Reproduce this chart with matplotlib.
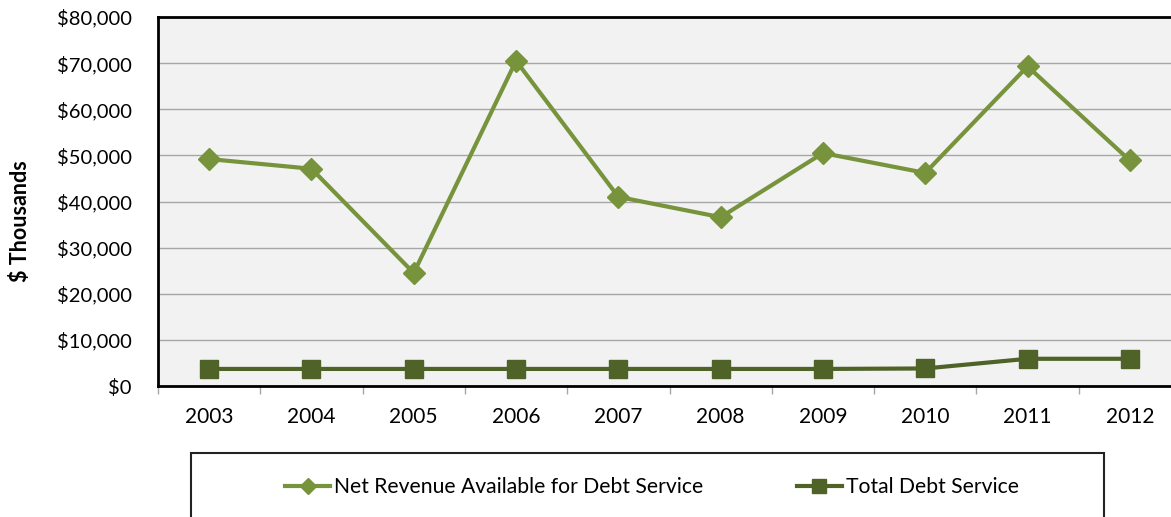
import matplotlib.pyplot as plt
from matplotlib.patches import Rectangle
from matplotlib.ticker import FuncFormatter, MultipleLocator

# Net revenue vs. debt service, $ thousands
years = ["2003", "2004", "2005", "2006", "2007", "2008", "2009", "2010", "2011", "2012"]
net_revenue = [49200, 47100, 24500, 70500, 41000, 36600, 50500, 46200, 69300, 48900]
debt_service = [3700, 3700, 3700, 3700, 3700, 3700, 3700, 3800, 5900, 5900]

light_green = "#77933C"
dark_green = "#4F6228"

plt.rcParams["font.family"] = ["Lato", "DejaVu Sans"]

fig = plt.figure(figsize=(11.71, 5.17), dpi=100)
ax = fig.add_axes([158 / 1171, 1 - 386 / 517, 1023 / 1171, 369 / 517])
ax.set_facecolor("#F2F2F2")

x = list(range(len(years)))
ax.plot(x, net_revenue, color=light_green, lw=3, marker="D", ms=11,
        label="Net Revenue Available for Debt Service", zorder=3)
ax.plot(x, debt_service, color=dark_green, lw=3, marker="s", ms=13,
        label="Total Debt Service", zorder=3)

ax.set_xlim(-0.5, len(years) - 0.5)
ax.set_ylim(0, 80000)
ax.yaxis.set_major_locator(MultipleLocator(10000))
ax.yaxis.set_major_formatter(FuncFormatter(lambda v, _: f"${v:,.0f}"))
ax.grid(axis="y", color="#A6A6A6", lw=1)
ax.set_axisbelow(True)

# category ticks sit between the years
ax.set_xticks([i - 0.5 for i in range(len(years) + 1)])
ax.set_xticklabels([])
ax.set_xticks(x, minor=True)
ax.set_xticklabels(years, minor=True)
ax.tick_params(axis="x", which="major", length=6, color="#A6A6A6", width=1)
ax.tick_params(axis="x", which="minor", length=0, pad=15, labelsize=15)
ax.tick_params(axis="y", length=0, pad=19, labelsize=14.5)

for side in ["left", "bottom", "top"]:
    ax.spines[side].set_linewidth(2)
    ax.spines[side].set_color("black")
ax.spines["right"].set_visible(False)

ax.set_ylabel("$ Thousands", fontsize=15.5, fontweight="bold")
ax.yaxis.set_label_coords(-0.124, 0.447)

# legend box below the plot
fig.patches.append(Rectangle((191 / 1171, -0.05), (1104 - 191) / 1171, (0.05 + 1 - 453 / 517),
                             transform=fig.transFigure, fill=False, edgecolor="#222222", lw=1.5))
handles, labels = ax.get_legend_handles_labels()
leg = fig.legend(handles, labels, loc="center", bbox_to_anchor=(652 / 1171, 1 - 487 / 517),
                 ncol=2, frameon=False, fontsize=15.2, columnspacing=4.4,
                 handlelength=2.15, handletextpad=0.2, markerscale=0.75)

fig.savefig("out.png", dpi=100)
